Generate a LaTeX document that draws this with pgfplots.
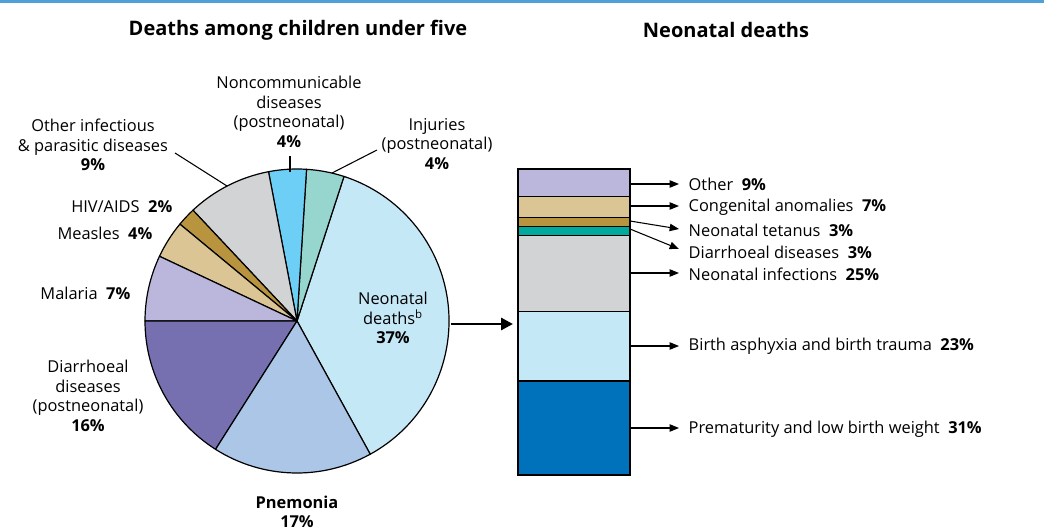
\documentclass[border=0pt]{standalone}
\usepackage{pgfplots}
\pgfplotsset{compat=1.18}
\usepackage{pgfplotstable}
\usepackage{fontspec}
\setmainfont{Open Sans}
\usetikzlibrary{arrows.meta}

\definecolor{cTop}{HTML}{4F9FD9}
\definecolor{cNeo}{HTML}{C5E8F7}
\definecolor{cPneu}{HTML}{ABC6E6}
\definecolor{cPurple}{HTML}{7670B0}
\definecolor{cLav}{HTML}{BBB6DC}
\definecolor{cTan}{HTML}{DCC594}
\definecolor{cBrown}{HTML}{B8943F}
\definecolor{cGrey}{HTML}{D1D3D4}
\definecolor{cNCD}{HTML}{6DCFF6}
\definecolor{cInj}{HTML}{97D5CF}
\definecolor{cDark}{HTML}{0072BC}
\definecolor{cTeal}{HTML}{00A99D}

% Deaths among children under five (percent), counter-clockwise from the start angle
\pgfplotstableread{
name value col
Neonatal 37 cNeo
Injuries 4 cInj
Noncomm 4 cNCD
OtherInf 9 cGrey
HIV 2 cBrown
Measles 4 cTan
Malaria 7 cLav
Diarrhoeal 16 cPurple
Pneumonia 17 cPneu
}\piedata

\newcommand\lbl{\fontsize{12.3}{14.6}\selectfont}
\newcommand\ttl{\fontsize{15}{18}\selectfont\bfseries}

% build pie slice commands from the table
\pgfplotstablegetrowsof{\piedata}
\pgfmathtruncatemacro\lastrow{\pgfplotsretval-1}
\gdef\piecmds{}
\gdef\curang{-61.2}
\foreach \i in {0,...,\lastrow}{%
  \pgfplotstablegetelem{\i}{value}\of\piedata \let\pval\pgfplotsretval
  \pgfplotstablegetelem{\i}{col}\of\piedata \let\pcol\pgfplotsretval
  \pgfmathsetmacro\endang{\curang+3.6*\pval}%
  \xdef\piecmds{\unexpanded\expandafter{\piecmds}
    \noexpand\filldraw[fill=\pcol, draw=black, line width=0.9pt, line join=round]
    (axis cs:297,321) -- ++(\curang:114pt) arc[start angle=\curang, end angle=\endang, radius=114pt] -- cycle;}%
  \global\let\curang\endang
}

\begin{document}
\begin{tikzpicture}
\begin{axis}[at={(0pt,0pt)}, anchor=south west, scale only axis,
  width=783pt, height=398.25pt, xmin=0, xmax=1044, ymin=0, ymax=531,
  y dir=reverse, hide axis, clip=false]
\addplot[draw=none] coordinates {(0,0)};
\fill[cTop] (axis cs:0,0) rectangle (axis cs:1044,3);
\node[font=\ttl] at (axis cs:298,30) {Deaths among children under five};
\node[font=\ttl] at (axis cs:726,30) {Neonatal deaths};
\piecmds
% leader lines
\draw[line width=0.8pt] (axis cs:290,156) -- (axis cs:290,172);
\draw[line width=0.8pt] (axis cs:377,150) -- (axis cs:332,173);
\draw[line width=0.8pt] (axis cs:175,153) -- (axis cs:227,186);
% pie labels
\node[font=\lbl, align=center] at (axis cs:289,112) {Noncommunicable\\diseases\\(postneonatal)\\\textbf{4\%}};
\node[font=\lbl, align=center] at (axis cs:437,144) {Injuries\\(postneonatal)\\\textbf{4\%}};
\node[font=\lbl, align=center] at (axis cs:93,145) {Other infectious\\\& parasitic diseases\\\textbf{9\%}};
\node[font=\lbl, anchor=east] at (axis cs:177,207) {HIV/AIDS\ \ \textbf{2\%}};
\node[font=\lbl, anchor=east] at (axis cs:157,233) {Measles\ \ \textbf{4\%}};
\node[font=\lbl, anchor=east] at (axis cs:135,293) {Malaria\ \ \textbf{7\%}};
\node[font=\lbl, align=center] at (axis cs:88,396) {Diarrhoeal\\diseases\\(postneonatal)\\\textbf{16\%}};
\node[font=\lbl, align=center] at (axis cs:297,512) {\textbf{Pnemonia}\\\textbf{17\%}};
\node[font=\lbl, align=center] at (axis cs:393,318) {Neonatal\\deaths\textsuperscript{b}\\\textbf{37\%}};
% big arrow
\draw[line width=2.2pt, -{Triangle[length=9pt,width=9pt]}] (axis cs:451,324) -- (axis cs:513,324);
% bar arrows
\foreach \ya/\yb in {184/184, 206/206, 221/229, 229/249, 273/273, 346/346, 428/428}{
  \edef\tmp{\noexpand\draw[line width=0.8pt, -{Triangle[length=7pt,width=5.5pt]}] (axis cs:630,\ya) -- (axis cs:679,\yb);}\tmp
}
\node[font=\lbl, anchor=west] at (axis cs:684,184) {Other\ \ \textbf{9\%}};
\node[font=\lbl, anchor=west] at (axis cs:684,207) {Congenital anomalies\ \ \textbf{7\%}};
\node[font=\lbl, anchor=west] at (axis cs:684,230) {Neonatal tetanus\ \ \textbf{3\%}};
\node[font=\lbl, anchor=west] at (axis cs:684,252) {Diarrhoeal diseases\ \ \textbf{3\%}};
\node[font=\lbl, anchor=west] at (axis cs:684,274) {Neonatal infections\ \ \textbf{25\%}};
\node[font=\lbl, anchor=west] at (axis cs:684,346) {Birth asphyxia and birth trauma\ \ \textbf{23\%}};
\node[font=\lbl, anchor=west] at (axis cs:684,429) {Prematurity and low birth weight\ \ \textbf{31\%}};
\end{axis}

\begin{axis}[at={(388.5pt,42pt)}, anchor=south west, scale only axis,
  width=84pt, height=229.5pt, xmin=-0.5, xmax=0.5, ymin=0, ymax=101,
  hide axis, clip=false, ybar stacked, bar width=1,
  every axis plot/.append style={draw=black, line width=0.9pt}]
\addplot[fill=cDark] coordinates {(0,31)};
\addplot[fill=cNeo] coordinates {(0,23)};
\addplot[fill=cGrey] coordinates {(0,25)};
\addplot[fill=cTeal] coordinates {(0,3)};
\addplot[fill=cBrown] coordinates {(0,3)};
\addplot[fill=cTan] coordinates {(0,7)};
\addplot[fill=cLav] coordinates {(0,9)};
\end{axis}
\pgfresetboundingbox
\path (0pt,0pt) rectangle (783pt,398.25pt);
\end{tikzpicture}
\end{document}
